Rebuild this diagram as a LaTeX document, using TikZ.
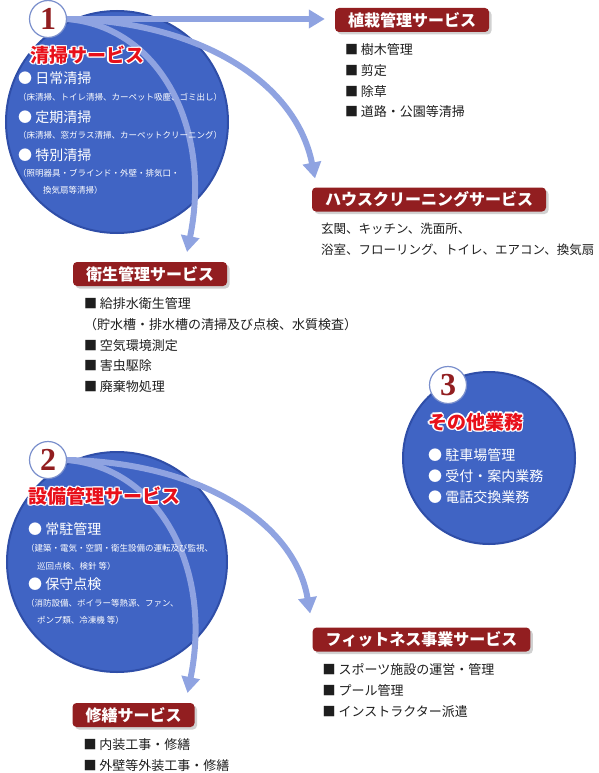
\documentclass[tikz,border=0pt]{standalone}
\usepackage{fontspec}
\setmainfont{Noto Sans CJK JP}
\newfontfamily\numfont{Liberation Serif}
\usepackage{tikz}
\usetikzlibrary{arrows.meta,positioning,shadows,backgrounds}
\definecolor{Disc}{HTML}{4064C4}
\definecolor{DiscRim}{HTML}{2F4EA8}
\definecolor{Flow}{HTML}{8FA3E1}
\definecolor{Tag}{HTML}{921E20}
\definecolor{TitleRed}{HTML}{E8101A}
\definecolor{BadgeRim}{HTML}{7A8FCC}
\definecolor{Ink}{HTML}{1E1E1E}
\newcommand\rimmed[1]{\leavevmode
  \rlap{\color{white}\kern1.3pt#1}\rlap{\color{white}\kern-1.3pt#1}%
  \rlap{\color{white}\raisebox{1.3pt}{#1}}\rlap{\color{white}\raisebox{-1.3pt}{#1}}%
  \rlap{\color{white}\kern.9pt\raisebox{.9pt}{#1}}\rlap{\color{white}\kern-.9pt\raisebox{.9pt}{#1}}%
  \rlap{\color{white}\kern.9pt\raisebox{-.9pt}{#1}}\rlap{\color{white}\kern-.9pt\raisebox{-.9pt}{#1}}%
  #1}
\tikzset{
  disc/.style={circle, fill=Disc, draw=DiscRim, line width=2pt},
  badge/.style={circle, fill=white, draw=BadgeRim, line width=1.2pt, minimum size=37pt, inner sep=0pt, text=Tag, font=\numfont\bfseries\fontsize{32}{32}\selectfont},
  tag/.style={fill=Tag, rounded corners=4pt, text=white, font=\bfseries\fontsize{16}{16}\selectfont, minimum height=24pt, inner xsep=13pt, inner ysep=0pt, drop shadow={shadow xshift=2.5pt, shadow yshift=-2.5pt, fill=black!30, opacity=0.6}},
  disctitle/.style={anchor=west, text=TitleRed, inner sep=0pt, font=\bfseries\fontsize{19}{19}\selectfont},
  discitem/.style={anchor=west, align=left, text=white, inner sep=0pt, font=\fontsize{14}{21}\selectfont},
  discnote/.style={anchor=west, text=white, inner sep=0pt, font=\fontsize{8.5}{8.5}\selectfont},
  itemlist/.style={align=left, text=Ink, inner sep=0pt, font=\fontsize{13}{20.6}\selectfont},
  flow/.style={draw=Flow, line width=6pt, -{Triangle[width=18pt,length=16pt]}}
}
\begin{document}
\begin{tikzpicture}[x=1pt,y=-1pt]
  \useasboundingbox (0,0) rectangle (599,773);
  \begin{scope}[on background layer]
    \node[disc, minimum size=222pt] (clean) at (117,122) {};
    \node[disc, minimum size=220pt] (facility) at (117,562) {};
    \node[disc, minimum size=172pt] (other) at (489,458) {};
  \end{scope}

  \node[badge] (cleanNo) at (48,19) {1};
  \node[badge] (facilityNo) at (48,460) {2};
  \node[badge] (otherNo) at (448,385) {3};

  \node[disctitle] (cleanTitle) at (30,55) {\rimmed{清掃サービス}};
  \node[discitem] (daily) at (18,78) {● 日常清掃};
  \node[discnote] (dailyNote) at (18,97) {（床清掃、トイレ清掃、カーペット吸塵、ゴミ出し）};
  \node[discitem] (regular) at (18,117) {● 定期清掃};
  \node[discnote] (regularNote) at (18,135) {（床清掃、窓ガラス清掃、カーペットクリーニング）};
  \node[discitem] (special) at (18,155) {● 特別清掃};
  \node[discnote] (specialNote) at (18,173) {（照明器具・ブラインド・外壁・排気口・};
  \node[discnote] (specialNoteB) at (43,190) {換気扇等清掃）};

  \node[disctitle] (facilityTitle) at (28,496) {\rimmed{設備管理サービス}};
  \node[discitem] (resident) at (28,529) {● 常駐管理};
  \node[discnote] (residentNote) at (26,548) {（建築・電気・空調・衛生設備の運転及び監視、};
  \node[discnote] (residentNoteB) at (37,566) {巡回点検、検針 等）};
  \node[discitem] (upkeep) at (28,584) {● 保守点検};
  \node[discnote] (upkeepNote) at (26,603) {（消防設備、ボイラー等熱源、ファン、};
  \node[discnote] (upkeepNoteB) at (37,620) {ポンプ類、冷凍機 等）};

  \node[disctitle] (otherTitle) at (428,422) {\rimmed{その他業務}};
  \node[discitem, anchor=north west] (otherItems) at (428,448) {● 駐車場管理\\● 受付・案内業務\\● 電話交換業務};

  \node[tag] (planting) at (412,20) {植栽管理サービス};
  \node[tag] (housecare) at (429,199.5) {ハウスクリーニングサービス};
  \node[tag] (hygiene) at (150,274) {衛生管理サービス};
  \node[tag] (fitness) at (421.5,639.5) {フィットネス事業サービス};
  \node[tag] (repair) at (133.5,715) {修繕サービス};

  \node[itemlist, below right=11.5pt and 10pt of planting.south west] (plantingList) {■ 樹木管理\\■ 剪定\\■ 除草\\■ 道路・公園等清掃};
  \node[itemlist, font=\fontsize{12.5}{20.6}\selectfont, below right=11pt and 9pt of housecare.south west] (housecareList) {玄関、キッチン、洗面所、\\浴室、フローリング、トイレ、エアコン、換気扇};
  \node[itemlist, below right=11.5pt and 11pt of hygiene.south west] (hygieneList) {■ 給排水衛生管理\\（貯水槽・排水槽の清掃及び点検、水質検査）\\■ 空気環境測定\\■ 害虫駆除\\■ 廃棄物処理};
  \node[itemlist, below right=12pt and 10pt of fitness.south west] (fitnessList) {■ スポーツ施設の運営・管理\\■ プール管理\\■ インストラクター派遣};
  \node[itemlist, below right=11.5pt and 11pt of repair.south west] (repairList) {■ 内装工事・修繕\\■ 外壁等外装工事・修繕};

  \begin{scope}[on background layer, transparency group, opacity=0.78]
    \draw[flow, shorten >=10pt] (cleanNo.east) -- (cleanNo.east -| planting.west);
    \draw[flow, shorten >=9pt] (cleanNo.east) .. controls +(124,2) and +(-22,-110) .. ([xshift=5pt]housecare.north west);
    \draw[flow, shorten >=10pt] (cleanNo.east) .. controls +(94,8) and +(27,-132) .. ([xshift=35pt]hygiene.north);
    \draw[flow, shorten >=14pt] (facilityNo.east) .. controls +(129,2) and +(-18,-107) .. (fitness.north west);
    \draw[flow, shorten >=10pt] (facilityNo.east) .. controls +(94,8) and +(27,-132) .. ([xshift=52pt]repair.north);
  \end{scope}
\end{tikzpicture}
\end{document}
